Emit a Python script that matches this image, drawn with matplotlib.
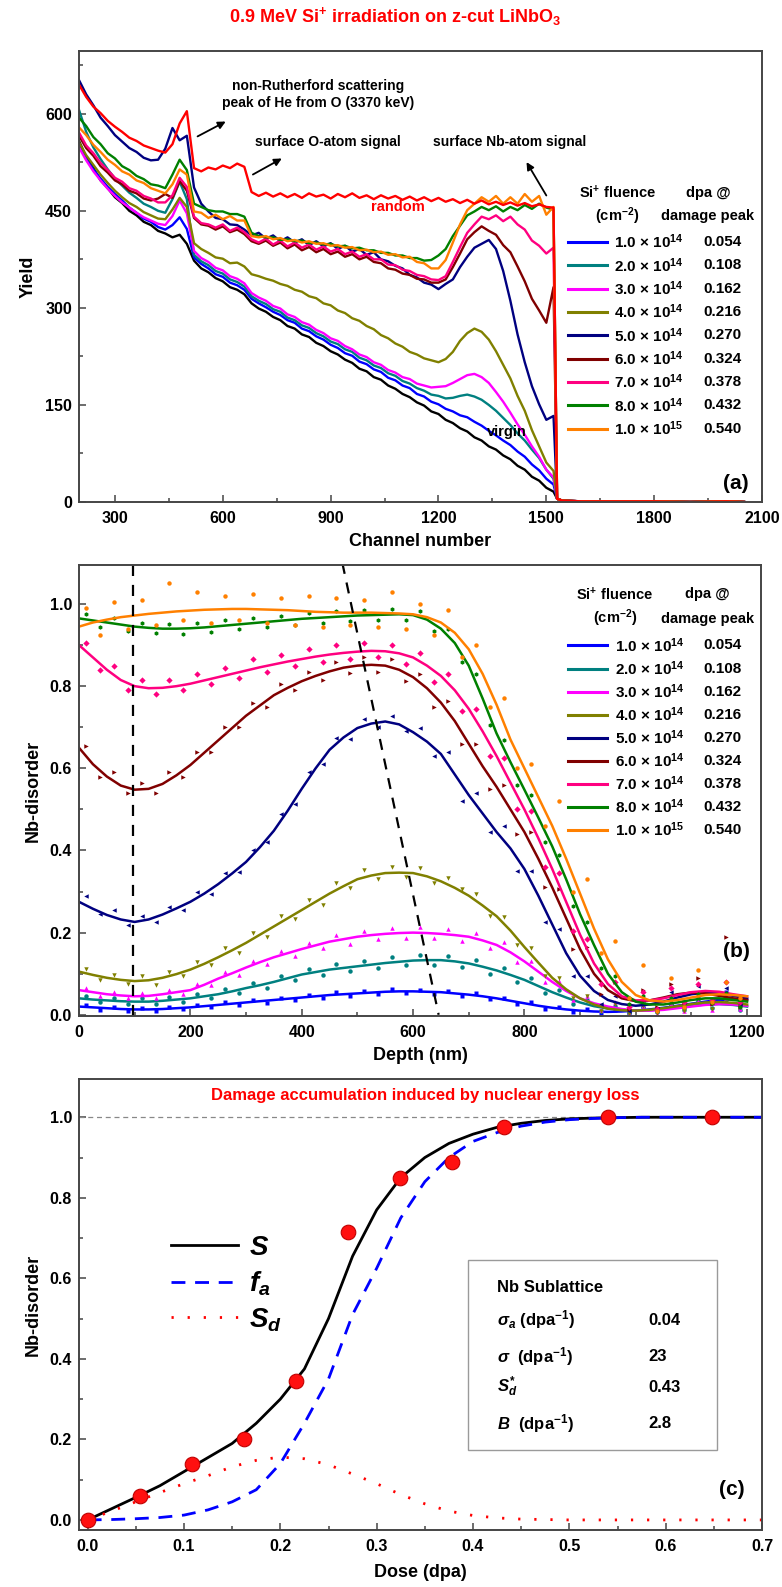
import matplotlib
matplotlib.use('Agg')
import matplotlib.pyplot as plt
from matplotlib.lines import Line2D
from matplotlib.patches import Rectangle
from matplotlib.ticker import MultipleLocator, FormatStrFormatter
import numpy as np

plt.rcParams['font.family'] = ['Liberation Sans', 'DejaVu Sans']
plt.rcParams['font.weight'] = 'bold'
plt.rcParams['axes.labelweight'] = 'bold'
plt.rcParams['mathtext.fontset'] = 'custom'
plt.rcParams['mathtext.rm'] = 'Liberation Sans:bold'
plt.rcParams['mathtext.bf'] = 'Liberation Sans:bold'
plt.rcParams['mathtext.it'] = 'Liberation Sans:italic:bold'

# ---------------- common legend data ----------------
SERIES_COLORS = ['#0000FF', '#008080', '#FF00FF', '#808000', '#000080',
                 '#800000', '#FF0080', '#008000', '#FF8000']
FLUENCE_LABELS = ['1.0 × 10$^{14}$', '2.0 × 10$^{14}$', '3.0 × 10$^{14}$',
                  '4.0 × 10$^{14}$', '5.0 × 10$^{14}$', '6.0 × 10$^{14}$',
                  '7.0 × 10$^{14}$', '8.0 × 10$^{14}$', '1.0 × 10$^{15}$']
DPA_LABELS = ['0.054', '0.108', '0.162', '0.216', '0.270', '0.324', '0.378', '0.432', '0.540']

# ---------------- panel (a): RBS spectra ----------------
CHANNEL = list(range(200, 1521, 20)) + [1530, 1545, 1600, 1700, 1800, 1900, 2000, 2050]
TAIL = [5, 2, 1, 1, 1, 0, 1, 0]

RANDOM = [645, 626, 611, 601, 589, 580, 572, 563, 558, 551,
          547, 543, 540, 553, 585, 604, 516, 511, 517, 514,
          520, 516, 523, 518, 479, 473, 478, 472, 477, 471,
          476, 470, 477, 472, 475, 469, 476, 471, 477, 470,
          474, 468, 474, 469, 473, 467, 472, 466, 471, 465,
          470, 464, 468, 462, 467, 461, 466, 460, 464, 459,
          463, 458, 462, 457, 460, 456, 455]
VIRGIN = [558, 533, 516, 497, 485, 471, 462, 450, 443, 433,
          428, 419, 415, 409, 413, 399, 373, 361, 355, 346,
          341, 332, 328, 321, 307, 299, 294, 286, 281, 272,
          268, 259, 255, 246, 241, 233, 228, 220, 215, 206,
          202, 193, 189, 180, 175, 167, 162, 154, 149, 140,
          136, 127, 122, 114, 109, 100, 95, 86, 81, 72,
          66, 56, 50, 39, 33, 22, 16]
SPEC_1E14 = [552, 530, 514, 500, 487, 476, 466, 455, 447, 438,
             433, 425, 421, 428, 440, 422, 378, 368, 361, 352,
             348, 339, 335, 328, 314, 307, 301, 294, 289, 281,
             277, 268, 264, 256, 251, 243, 238, 230, 226, 217,
             213, 205, 201, 192, 188, 180, 176, 167, 163, 155,
             151, 144, 140, 134, 131, 124, 118, 110, 103, 95,
             88, 78, 70, 58, 49, 36, 27]
SPEC_2E14 = [606, 572, 548, 530, 514, 500, 489, 478, 470, 461,
             456, 450, 447, 468, 495, 468, 382, 372, 366, 357,
             353, 344, 340, 333, 318, 311, 306, 298, 294, 285,
             281, 273, 269, 261, 256, 248, 244, 236, 232, 223,
             219, 211, 207, 199, 195, 187, 183, 176, 172, 166,
             164, 160, 161, 164, 166, 163, 158, 150, 141, 130,
             119, 106, 95, 81, 68, 50, 36]
SPEC_3E14 = [548, 528, 511, 497, 484, 473, 463, 455, 447, 440,
             435, 430, 428, 442, 466, 446, 388, 377, 371, 362,
             358, 349, 345, 338, 323, 316, 311, 303, 299, 290,
             286, 278, 274, 266, 261, 253, 249, 241, 236, 228,
             224, 216, 212, 204, 200, 193, 190, 183, 180, 177,
             178, 179, 184, 190, 196, 198, 193, 184, 170, 155,
             138, 120, 104, 86, 70, 50, 38]
SPEC_4E14 = [556, 536, 521, 506, 493, 481, 471, 462, 456, 448,
             443, 438, 437, 452, 470, 456, 400, 391, 385, 378,
             376, 369, 370, 364, 352, 349, 345, 342, 337, 334,
             328, 325, 318, 315, 307, 304, 296, 292, 284, 280,
             272, 267, 258, 253, 245, 240, 232, 228, 222, 219,
             216, 221, 232, 249, 261, 268, 263, 251, 233, 212,
             191, 164, 141, 111, 86, 61, 48]
SPEC_5E14 = [652, 630, 613, 594, 581, 567, 557, 547, 541, 532,
             528, 529, 546, 578, 559, 566, 486, 461, 449, 439,
             437, 429, 428, 421, 412, 416, 407, 412, 403, 409,
             401, 406, 397, 403, 395, 400, 391, 396, 387, 391,
             382, 386, 375, 372, 365, 361, 351, 347, 339, 336,
             329, 337, 344, 363, 379, 393, 399, 405, 391, 357,
             311, 259, 216, 179, 151, 127, 133]
SPEC_6E14 = [566, 547, 535, 519, 509, 497, 491, 481, 477, 469,
             466, 469, 476, 470, 496, 481, 439, 429, 427, 421,
             426, 417, 421, 414, 403, 399, 404, 396, 401, 392,
             398, 389, 394, 386, 391, 383, 387, 379, 383, 375,
             379, 371, 369, 361, 359, 353, 351, 345, 344, 339,
             339, 344, 363, 384, 406, 417, 426, 419, 413, 397,
             386, 364, 341, 314, 296, 277, 332]
SPEC_7E14 = [571, 551, 539, 524, 513, 501, 495, 485, 481, 473,
             469, 463, 463, 474, 501, 487, 441, 431, 429, 424,
             429, 419, 424, 417, 406, 401, 407, 398, 404, 395,
             401, 393, 398, 390, 395, 387, 391, 383, 387, 379,
             383, 375, 375, 367, 366, 359, 357, 351, 349, 344,
             343, 349, 371, 394, 416, 429, 441, 437, 443, 434,
             441, 429, 421, 404, 396, 384, 393]
SPEC_8E14 = [594, 581, 564, 553, 539, 531, 519, 513, 504, 499,
             491, 489, 485, 506, 529, 513, 461, 456, 451, 449,
             449, 445, 445, 441, 416, 411, 409, 409, 405, 406,
             403, 404, 400, 401, 398, 399, 395, 396, 392, 393,
             389, 389, 385, 385, 381, 381, 377, 377, 373, 374,
             381, 391, 411, 427, 443, 449, 456, 451, 457, 449,
             456, 451, 459, 453, 461, 455, 452]
SPEC_1E15 = [579, 567, 552, 541, 529, 521, 511, 506, 497, 493,
             485, 481, 477, 491, 514, 506, 449, 447, 439, 444,
             437, 442, 435, 435, 411, 409, 411, 406, 408, 403,
             405, 401, 403, 399, 400, 396, 397, 393, 394, 389,
             390, 386, 387, 382, 383, 378, 379, 371, 369, 361,
             361, 374, 401, 429, 451, 461, 471, 464, 473, 461,
             471, 461, 476, 464, 473, 444, 456]
SPECTRA = [SPEC_1E14, SPEC_2E14, SPEC_3E14, SPEC_4E14, SPEC_5E14,
           SPEC_6E14, SPEC_7E14, SPEC_8E14, SPEC_1E15]

# ---------------- panel (b): Nb disorder profiles ----------------
DEPTH_LINE = np.arange(0, 1201, 25)
DEPTH_PTS = np.arange(12.5, 1200, 25)

FIT_1E14 = [0.020, 0.018, 0.016, 0.014, 0.013, 0.013, 0.014, 0.016, 0.018, 0.021,
            0.024, 0.027, 0.030, 0.033, 0.036, 0.039, 0.042, 0.045, 0.048, 0.050,
            0.052, 0.054, 0.056, 0.057, 0.057, 0.056, 0.055, 0.052, 0.049, 0.045,
            0.040, 0.034, 0.028, 0.022, 0.017, 0.013, 0.010, 0.008, 0.007, 0.008,
            0.010, 0.013, 0.017, 0.022, 0.027, 0.032, 0.036, 0.038, 0.037]
FIT_2E14 = [0.040, 0.037, 0.035, 0.033, 0.032, 0.032, 0.034, 0.037, 0.040, 0.045,
            0.050, 0.057, 0.065, 0.072, 0.080, 0.089, 0.098, 0.104, 0.110, 0.114,
            0.118, 0.122, 0.126, 0.129, 0.132, 0.133, 0.133, 0.130, 0.125, 0.117,
            0.108, 0.097, 0.085, 0.070, 0.055, 0.042, 0.030, 0.021, 0.015, 0.012,
            0.010, 0.011, 0.014, 0.018, 0.022, 0.025, 0.026, 0.024, 0.020]
FIT_3E14 = [0.060, 0.055, 0.050, 0.047, 0.045, 0.046, 0.050, 0.055, 0.060, 0.073,
            0.088, 0.101, 0.115, 0.128, 0.140, 0.150, 0.160, 0.169, 0.178, 0.184,
            0.190, 0.194, 0.197, 0.199, 0.200, 0.199, 0.197, 0.194, 0.190, 0.181,
            0.170, 0.152, 0.130, 0.105, 0.080, 0.058, 0.040, 0.028, 0.020, 0.014,
            0.010, 0.010, 0.012, 0.016, 0.020, 0.024, 0.026, 0.025, 0.022]
FIT_4E14 = [0.105, 0.097, 0.090, 0.085, 0.082, 0.084, 0.090, 0.099, 0.110, 0.124,
            0.140, 0.157, 0.175, 0.195, 0.215, 0.235, 0.255, 0.275, 0.295, 0.313,
            0.330, 0.339, 0.345, 0.346, 0.345, 0.337, 0.325, 0.309, 0.290, 0.266,
            0.240, 0.205, 0.165, 0.127, 0.090, 0.062, 0.040, 0.025, 0.015, 0.011,
            0.010, 0.012, 0.016, 0.021, 0.026, 0.030, 0.031, 0.029, 0.025]
FIT_5E14 = [0.275, 0.258, 0.243, 0.232, 0.226, 0.232, 0.244, 0.259, 0.275, 0.295,
            0.318, 0.344, 0.372, 0.408, 0.448, 0.497, 0.550, 0.600, 0.645, 0.675,
            0.698, 0.709, 0.714, 0.707, 0.688, 0.665, 0.635, 0.585, 0.535, 0.490,
            0.445, 0.405, 0.355, 0.290, 0.220, 0.150, 0.095, 0.058, 0.036, 0.026,
            0.022, 0.025, 0.032, 0.042, 0.050, 0.054, 0.052, 0.046, 0.040]
FIT_6E14 = [0.650, 0.610, 0.580, 0.558, 0.548, 0.550, 0.562, 0.583, 0.608, 0.638,
            0.668, 0.698, 0.728, 0.753, 0.778, 0.796, 0.812, 0.825, 0.836, 0.845,
            0.850, 0.852, 0.850, 0.840, 0.822, 0.795, 0.760, 0.715, 0.660, 0.605,
            0.555, 0.500, 0.445, 0.380, 0.310, 0.235, 0.160, 0.100, 0.060, 0.040,
            0.033, 0.035, 0.042, 0.050, 0.054, 0.052, 0.046, 0.040, 0.036]
FIT_7E14 = [0.900, 0.870, 0.840, 0.815, 0.800, 0.795, 0.796, 0.800, 0.806, 0.814,
            0.822, 0.830, 0.838, 0.846, 0.853, 0.860, 0.866, 0.872, 0.877, 0.881,
            0.884, 0.886, 0.885, 0.880, 0.870, 0.850, 0.825, 0.790, 0.745, 0.690,
            0.630, 0.565, 0.500, 0.430, 0.355, 0.275, 0.195, 0.125, 0.075, 0.045,
            0.035, 0.035, 0.040, 0.048, 0.055, 0.058, 0.056, 0.050, 0.045]
FIT_8E14 = [0.965, 0.960, 0.955, 0.950, 0.945, 0.942, 0.940, 0.940, 0.941, 0.943,
            0.946, 0.949, 0.952, 0.955, 0.958, 0.961, 0.964, 0.966, 0.968, 0.970,
            0.972, 0.973, 0.974, 0.975, 0.973, 0.962, 0.940, 0.905, 0.850, 0.770,
            0.685, 0.615, 0.548, 0.480, 0.410, 0.330, 0.245, 0.170, 0.100, 0.055,
            0.032, 0.025, 0.025, 0.030, 0.036, 0.040, 0.040, 0.036, 0.032]
FIT_1E15 = [0.945, 0.955, 0.962, 0.968, 0.972, 0.976, 0.979, 0.982, 0.984, 0.986,
            0.987, 0.988, 0.988, 0.987, 0.986, 0.985, 0.983, 0.981, 0.980, 0.979,
            0.979, 0.979, 0.978, 0.977, 0.975, 0.968, 0.955, 0.930, 0.890, 0.830,
            0.755, 0.670, 0.600, 0.530, 0.460, 0.380, 0.295, 0.210, 0.135, 0.080,
            0.048, 0.035, 0.032, 0.036, 0.042, 0.048, 0.050, 0.048, 0.045]
FITS = [FIT_1E14, FIT_2E14, FIT_3E14, FIT_4E14, FIT_5E14, FIT_6E14, FIT_7E14, FIT_8E14, FIT_1E15]

PTS_1E14 = [0.024, 0.012, 0.018, 0.009, 0.017, 0.010, 0.019, 0.013, 0.024, 0.018,
            0.030, 0.024, 0.036, 0.029, 0.042, 0.036, 0.048, 0.041, 0.055, 0.046,
            0.058, 0.050, 0.062, 0.052, 0.061, 0.050, 0.058, 0.046, 0.052, 0.038,
            0.042, 0.026, 0.030, 0.015, 0.020, 0.006, 0.013, 0.003, 0.012, 0.004,
            0.016, 0.010, 0.025, 0.018, 0.040, 0.028, 0.055, 0.030]
PTS_2E14 = [0.046, 0.030, 0.041, 0.026, 0.040, 0.027, 0.044, 0.031, 0.050, 0.040,
            0.062, 0.052, 0.078, 0.066, 0.094, 0.084, 0.112, 0.096, 0.124, 0.106,
            0.132, 0.114, 0.140, 0.120, 0.145, 0.122, 0.143, 0.117, 0.133, 0.100,
            0.114, 0.080, 0.089, 0.052, 0.060, 0.026, 0.036, 0.010, 0.022, 0.004,
            0.018, 0.006, 0.026, 0.012, 0.033, 0.016, 0.037, 0.012]
PTS_3E14 = [0.066, 0.046, 0.056, 0.040, 0.052, 0.041, 0.060, 0.050, 0.074, 0.072,
            0.104, 0.098, 0.132, 0.124, 0.156, 0.144, 0.175, 0.162, 0.194, 0.172,
            0.205, 0.184, 0.212, 0.188, 0.214, 0.186, 0.210, 0.180, 0.200, 0.162,
            0.176, 0.128, 0.132, 0.080, 0.082, 0.036, 0.046, 0.012, 0.030, 0.004,
            0.022, 0.002, 0.026, 0.008, 0.034, 0.012, 0.040, 0.014]
PTS_4E14 = [0.112, 0.084, 0.098, 0.074, 0.094, 0.072, 0.104, 0.095, 0.128, 0.120,
            0.162, 0.150, 0.198, 0.190, 0.240, 0.232, 0.280, 0.268, 0.320, 0.308,
            0.352, 0.330, 0.360, 0.335, 0.358, 0.322, 0.334, 0.305, 0.295, 0.240,
            0.238, 0.170, 0.162, 0.095, 0.090, 0.040, 0.045, 0.010, 0.025, 0.002,
            0.022, 0.004, 0.030, 0.010, 0.042, 0.015, 0.048, 0.018]
PTS_5E14 = [0.290, 0.245, 0.255, 0.218, 0.240, 0.225, 0.262, 0.255, 0.300, 0.295,
            0.345, 0.348, 0.402, 0.420, 0.488, 0.512, 0.590, 0.610, 0.675, 0.672,
            0.720, 0.700, 0.728, 0.690, 0.698, 0.630, 0.640, 0.520, 0.540, 0.445,
            0.460, 0.350, 0.350, 0.225, 0.210, 0.095, 0.095, 0.025, 0.045, 0.010,
            0.035, 0.015, 0.055, 0.030, 0.070, 0.035, 0.065, 0.025]
PTS_6E14 = [0.655, 0.580, 0.590, 0.540, 0.565, 0.540, 0.590, 0.580, 0.640, 0.640,
            0.700, 0.700, 0.760, 0.750, 0.805, 0.790, 0.835, 0.815, 0.860, 0.832,
            0.870, 0.835, 0.865, 0.812, 0.830, 0.750, 0.765, 0.660, 0.660, 0.550,
            0.560, 0.440, 0.445, 0.310, 0.305, 0.160, 0.165, 0.050, 0.080, 0.015,
            0.060, 0.020, 0.075, 0.030, 0.090, 0.025, 0.190, 0.020]
PTS_7E14 = [0.905, 0.840, 0.850, 0.790, 0.815, 0.780, 0.815, 0.790, 0.830, 0.805,
            0.845, 0.820, 0.865, 0.835, 0.875, 0.850, 0.890, 0.860, 0.900, 0.865,
            0.905, 0.870, 0.900, 0.855, 0.880, 0.810, 0.830, 0.740, 0.745, 0.630,
            0.625, 0.500, 0.495, 0.360, 0.345, 0.205, 0.185, 0.075, 0.080, 0.020,
            0.055, 0.015, 0.065, 0.030, 0.075, 0.035, 0.080, 0.030]
PTS_8E14 = [0.975, 0.945, 0.965, 0.935, 0.955, 0.930, 0.952, 0.928, 0.955, 0.932,
            0.960, 0.938, 0.966, 0.944, 0.972, 0.950, 0.978, 0.955, 0.982, 0.958,
            0.985, 0.960, 0.988, 0.960, 0.982, 0.935, 0.940, 0.860, 0.830, 0.705,
            0.670, 0.560, 0.535, 0.420, 0.390, 0.265, 0.225, 0.115, 0.095, 0.025,
            0.045, 0.010, 0.040, 0.020, 0.050, 0.028, 0.052, 0.020]
PTS_1E15 = [0.990, 0.925, 1.005, 0.940, 1.010, 0.950, 1.050, 0.960, 1.030, 0.955,
            1.020, 0.960, 1.025, 0.955, 1.015, 0.950, 1.020, 0.945, 1.015, 0.950,
            1.010, 0.945, 1.030, 0.940, 1.000, 0.925, 0.985, 0.870, 0.900, 0.750,
            0.770, 0.600, 0.610, 0.460, 0.520, 0.300, 0.330, 0.150, 0.180, 0.040,
            0.120, 0.010, 0.090, 0.020, 0.110, 0.030, 0.080, 0.040]
POINTS = [PTS_1E14, PTS_2E14, PTS_3E14, PTS_4E14, PTS_5E14, PTS_6E14, PTS_7E14, PTS_8E14, PTS_1E15]
MARKERS = ['s', 'o', '^', 'v', '<', '>', 'D', 'h', 'o']

GUIDE_VERTICAL_DEPTH = 97
GUIDE_SLANT_DEPTH = [473, 646]
GUIDE_SLANT_DISORDER = [1.1, 0.0]

# ---------------- panel (c): damage accumulation ----------------
DOSE_EXP = [0.0, 0.054, 0.108, 0.162, 0.216, 0.270, 0.324, 0.378, 0.432, 0.540, 0.648]
DISORDER_EXP = [0.0, 0.06, 0.14, 0.20, 0.345, 0.715, 0.85, 0.89, 0.975, 1.0, 1.0]

DOSE_MODEL = np.arange(0, 0.7001, 0.025)
S_TOTAL = [0.0, 0.028, 0.056, 0.085, 0.120, 0.155, 0.190, 0.240, 0.300, 0.375,
           0.500, 0.655, 0.770, 0.850, 0.900, 0.935, 0.958, 0.975, 0.985, 0.992,
           0.996, 0.998, 0.999, 1.0, 1.0, 1.0, 1.0, 1.0, 1.0]
F_AMORPH = [0.0, 0.001, 0.003, 0.006, 0.012, 0.025, 0.045, 0.075, 0.140, 0.240,
            0.350, 0.510, 0.625, 0.750, 0.840, 0.900, 0.940, 0.962, 0.978, 0.988,
            0.994, 0.997, 0.999, 1.0, 1.0, 1.0, 1.0, 1.0, 1.0]
S_DEFECT = [0.0, 0.022, 0.045, 0.068, 0.090, 0.110, 0.132, 0.148, 0.156, 0.152,
            0.137, 0.114, 0.090, 0.063, 0.040, 0.022, 0.011, 0.005, 0.002, 0.001,
            0.0, 0.0, 0.0, 0.0, 0.0, 0.0, 0.0, 0.0, 0.0]
PARAM_NAMES = [r'$\sigma_a$ (dpa$^{-1}$)', r'$\sigma$  (dpa$^{-1}$)', r'$S_d^{*}$', r'$B$  (dpa$^{-1}$)']
PARAM_VALUES = ['0.04', '23', '0.43', '2.8']

# ---------------- figure ----------------
W, H = 782, 1587
fig = plt.figure(figsize=(W / 100, H / 100), dpi=100)

def frac_axes(x0, y0, x1, y1):
    return fig.add_axes([x0 / W, 1 - y1 / H, (x1 - x0) / W, (y1 - y0) / H])

ax_a = frac_axes(79, 51, 762, 502)
ax_b = frac_axes(79, 565, 761, 1016)
ax_c = frac_axes(79, 1079, 762, 1530)

def style(ax):
    for s in ax.spines.values():
        s.set_linewidth(1.4)
        s.set_color('#454545')
    ax.tick_params(which='both', direction='in', top=False, right=False,
                   labelsize=11.5, color='#454545', width=1.1)
    ax.tick_params(which='major', length=5)
    ax.tick_params(which='minor', length=3)
    ax.tick_params(axis='x', which='major', pad=6.5)
    ax.tick_params(axis='y', which='major', pad=5)

for ax in (ax_a, ax_b, ax_c):
    style(ax)

fig.text(395 / W, 1 - 17 / H, r'0.9 MeV Si$^{+}$ irradiation on z-cut LiNbO$_{3}$',
         color='#FF0000', fontsize=13, ha='center', va='center')

# ---- panel (a)
ax_a.plot(CHANNEL, VIRGIN + TAIL, color='black', lw=1.7)
for col, spec in zip(SERIES_COLORS, SPECTRA):
    ax_a.plot(CHANNEL, spec + TAIL, color=col, lw=1.7)
ax_a.plot(CHANNEL, RANDOM + TAIL, color='#FF0000', lw=1.7)
ax_a.set_xlim(200, 2100)
ax_a.set_ylim(0, 697)
ax_a.xaxis.set_major_locator(MultipleLocator(300))
ax_a.xaxis.set_minor_locator(MultipleLocator(150))
ax_a.yaxis.set_major_locator(MultipleLocator(150))
ax_a.yaxis.set_minor_locator(MultipleLocator(75))
ax_a.set_xlabel('Channel number', fontsize=13, labelpad=5)
ax_a.set_ylabel('Yield', fontsize=13, labelpad=6)

ax_a.text(866, 630, 'non-Rutherford scattering\npeak of He from O (3370 keV)',
          ha='center', va='center', fontsize=10, linespacing=1.25)
ax_a.text(891, 556, 'surface O-atom signal', ha='center', va='center', fontsize=10)
ax_a.text(1184, 556, 'surface Nb-atom signal', ha='left', va='center', fontsize=10)
arrow = dict(arrowstyle='-|>', color='black', lw=1.3, mutation_scale=11)
ax_a.annotate('', xy=(615, 590), xytext=(523, 563), arrowprops=arrow)
ax_a.annotate('', xy=(771, 533), xytext=(677, 504), arrowprops=arrow)
ax_a.annotate('', xy=(1441, 529), xytext=(1504, 470), arrowprops=arrow)
ax_a.text(1086, 456, 'random', color='#FF0000', ha='center', va='center', fontsize=10.5)
ax_a.text(1390, 108, 'virgin', color='black', ha='center', va='center', fontsize=10.5)
ax_a.text(2026, 29, '(a)', ha='center', va='center', fontsize=15)

def fluence_legend(ax, hx1, hx2, hy1, hy2, lx0, lx1, tx, dx, y0, dy):
    kw = dict(transform=ax.transAxes, va='center', fontsize=10.5)
    ax.text(hx1, hy1, r'Si$^{+}$ fluence', ha='center', **kw)
    ax.text(hx1, hy2, r'(cm$^{-2}$)', ha='center', **kw)
    ax.text(hx2, hy1, 'dpa @', ha='center', **kw)
    ax.text(hx2, hy2, 'damage peak', ha='center', **kw)
    for i, (c, f, d) in enumerate(zip(SERIES_COLORS, FLUENCE_LABELS, DPA_LABELS)):
        y = y0 - i * dy
        ax.add_line(Line2D([lx0, lx1], [y, y], transform=ax.transAxes, color=c, lw=2.2))
        ax.text(tx, y, f, ha='left', transform=ax.transAxes, va='center', fontsize=11)
        ax.text(dx, y, d, ha='left', transform=ax.transAxes, va='center', fontsize=11)

fluence_legend(ax_a, 0.788, 0.921, 0.685, 0.634, 0.716, 0.773, 0.783, 0.914, 0.5765, 0.0517)

# ---- panel (b)
for col, fit, pts, mk in zip(SERIES_COLORS, FITS, POINTS, MARKERS):
    ax_b.plot(DEPTH_PTS, pts, ls='none', marker=mk, ms=3.2, color=col, mec='none')
    ax_b.plot(DEPTH_LINE, fit, color=col, lw=1.8)
ax_b.axvline(GUIDE_VERTICAL_DEPTH, color='black', lw=1.6, ls=(0, (5, 4)))
ax_b.plot(GUIDE_SLANT_DEPTH, GUIDE_SLANT_DISORDER, color='black', lw=1.6, ls=(0, (5, 4)))
ax_b.set_xlim(0, 1225)
ax_b.set_ylim(-0.003, 1.095)
ax_b.xaxis.set_major_locator(MultipleLocator(200))
ax_b.xaxis.set_minor_locator(MultipleLocator(100))
ax_b.yaxis.set_major_locator(MultipleLocator(0.2))
ax_b.yaxis.set_minor_locator(MultipleLocator(0.1))
ax_b.yaxis.set_major_formatter(FormatStrFormatter('%.1f'))
ax_b.set_xlabel('Depth (nm)', fontsize=13, labelpad=5)
ax_b.set_ylabel('Nb-disorder', fontsize=13, labelpad=6)
ax_b.text(1180, 0.155, '(b)', ha='center', va='center', fontsize=15)
fluence_legend(ax_b, 0.786, 0.921, 0.935, 0.881, 0.717, 0.774, 0.786, 0.915, 0.8217, 0.0512)

# ---- panel (c)
ax_c.axhline(1.0, color='#888888', lw=0.9, ls=(0, (4, 3)))
h_s, = ax_c.plot(DOSE_MODEL, S_TOTAL, color='black', lw=2)
h_f, = ax_c.plot(DOSE_MODEL, F_AMORPH, color='#0000FF', lw=2, ls=(0, (5, 3.5)))
h_d, = ax_c.plot(DOSE_MODEL, S_DEFECT, color='#FF0000', lw=2, ls=(0, (0.8, 5)))
ax_c.plot(DOSE_EXP, DISORDER_EXP, ls='none', marker='o', ms=10.5, color='#FF1010',
          mec='#C00000', mew=0.8, zorder=5)
ax_c.set_xlim(-0.009, 0.7)
ax_c.set_ylim(-0.025, 1.095)
ax_c.xaxis.set_major_locator(MultipleLocator(0.1))
ax_c.xaxis.set_minor_locator(MultipleLocator(0.05))
ax_c.yaxis.set_major_locator(MultipleLocator(0.2))
ax_c.yaxis.set_minor_locator(MultipleLocator(0.1))
ax_c.xaxis.set_major_formatter(FormatStrFormatter('%.1f'))
ax_c.yaxis.set_major_formatter(FormatStrFormatter('%.1f'))
ax_c.set_xlabel('Dose (dpa)', fontsize=13, labelpad=7)
ax_c.set_ylabel('Nb-disorder', fontsize=13, labelpad=6)
ax_c.text(0.35, 1.055, 'Damage accumulation induced by nuclear energy loss',
          color='#FF0000', ha='center', va='center', fontsize=12)
ax_c.text(0.669, 0.075, '(c)', ha='center', va='center', fontsize=15)
ax_c.legend([h_s, h_f, h_d], [r'$S$', r'$f_a$', r'$S_d$'], loc='upper left',
            bbox_to_anchor=(0.115, 0.685), frameon=False, fontsize=20,
            handlelength=2.4, handletextpad=0.4, labelspacing=0.3, borderpad=0)
ax_c.add_patch(Rectangle((0.5695, 0.177), 0.3645, 0.422, transform=ax_c.transAxes,
                         fill=False, ec='#9a9a9a', lw=1.0))
ax_c.text(0.612, 0.5366, 'Nb Sublattice', transform=ax_c.transAxes, ha='left', va='center', fontsize=12)
for i, (nm, val) in enumerate(zip(PARAM_NAMES, PARAM_VALUES)):
    y = [0.4656, 0.3836, 0.317, 0.237][i]
    ax_c.text(0.612, y, nm, transform=ax_c.transAxes, ha='left', va='center', fontsize=12)
    ax_c.text(0.833, y, val, transform=ax_c.transAxes, ha='left', va='center', fontsize=12)

fig.savefig('out.png', dpi=100)
